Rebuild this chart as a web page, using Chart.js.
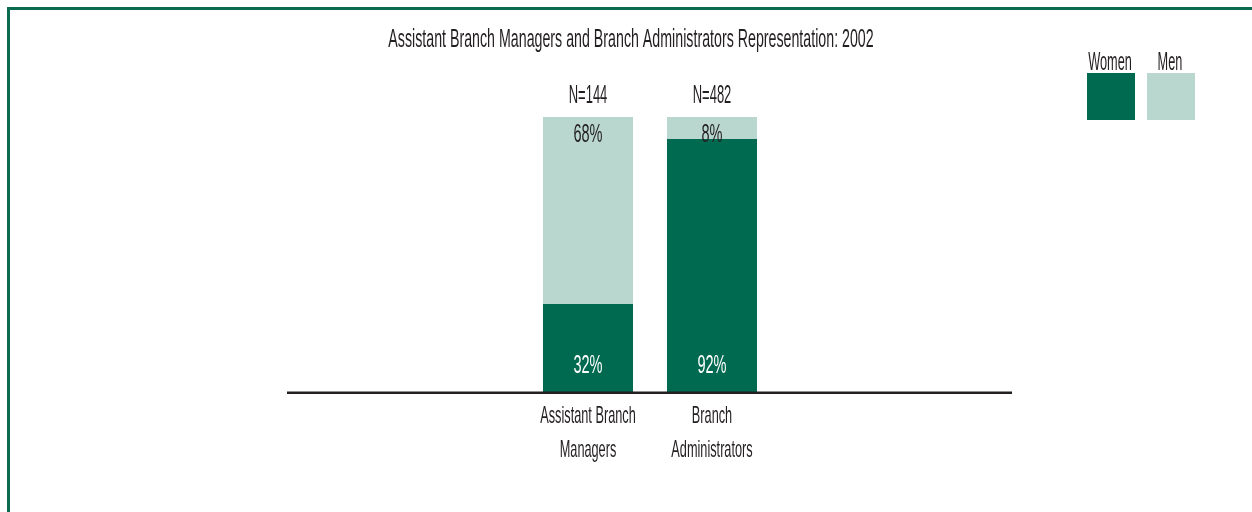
<!DOCTYPE html>
<html>
<head>
<meta charset="utf-8">
<script src="https://cdn.jsdelivr.net/npm/chart.js@4/dist/chart.umd.min.js"></script>
<style>
  html, body { margin: 0; padding: 0; background: #fff; }
  #wrap { position: relative; width: 1252px; height: 512px; }
  #frame { position: absolute; left: 7px; top: 7px; right: 0; bottom: 0;
           border-left: 3px solid #0b6b50; border-top: 3px solid #0b6b50; pointer-events: none; }
  canvas { position: absolute; left: 0; top: 0; }
</style>
</head>
<body>
<div id="wrap">
  <canvas id="ctx" width="1252" height="512"></canvas>
  <div id="frame"></div>
</div>
<script>
var title = 'Assistant Branch Managers and Branch Administrators Representation: 2002';
var categories = [['Assistant Branch', 'Managers'], ['Branch', 'Administrators']];
var women = [32, 92];
var men = [68, 8];
var sampleSizes = [144, 482];

var FONT = '"Liberation Sans", Arial, sans-serif';
var TEXT = '#231f20';
var GREEN = '#006a50';
var LIGHT = '#b9d6cf';
var SQUEEZE = 0.52; // the original uses a tall condensed face

// draw text squeezed horizontally to mimic the condensed font
function narrowText(ctx, str, x, y, size, factor) {
    ctx.font = size + 'px ' + FONT;
    var w = ctx.measureText(str).width;
    ctx.fillText(str, x, y, w * (factor || SQUEEZE));
}

var extras = {
    id: 'extras',
    afterDatasetsDraw: function (chart) {
        var ctx = chart.ctx;
        var area = chart.chartArea;
        var y = chart.scales.y;
        ctx.save();
        // extended baseline
        var y0 = y.getPixelForValue(0) + 0.75;
        ctx.strokeStyle = TEXT;
        ctx.lineWidth = 2.5;
        ctx.beginPath();
        ctx.moveTo(area.left - 239, y0);
        ctx.lineTo(area.right + 238, y0);
        ctx.stroke();

        ctx.textAlign = 'center';
        ctx.textBaseline = 'alphabetic';
        ctx.fillStyle = TEXT;

        // title
        narrowText(ctx, title, (10 + chart.width) / 2, 47, 26, 0.547);

        var wMeta = chart.getDatasetMeta(0);
        var mMeta = chart.getDatasetMeta(1);
        var top = y.getPixelForValue(100);
        wMeta.data.forEach(function (bar, i) {
            ctx.fillStyle = '#ffffff';
            narrowText(ctx, women[i] + '%', bar.x, bar.base - 19, 26, 0.56);
        });
        mMeta.data.forEach(function (bar, i) {
            ctx.fillStyle = TEXT;
            narrowText(ctx, men[i] + '%', bar.x, top + 25, 26, 0.56);
            narrowText(ctx, 'N=' + sampleSizes[i], bar.x, top - 14, 26, 0.5);
            // category labels below the axis
            categories[i].forEach(function (line, k) {
                narrowText(ctx, line, bar.x, y.getPixelForValue(0) + 31 + k * 34, 24, 0.53);
            });
        });

        // legend: text above boxes
        var left = chart.width - 165;
        chart.data.datasets.forEach(function (ds, i) {
            var bx = left + i * 60;
            ctx.fillStyle = ds.backgroundColor;
            ctx.fillRect(bx, 73, 48, 47);
            ctx.fillStyle = TEXT;
            narrowText(ctx, ds.label, bx + 23, 70, 26, 0.49);
        });
        ctx.restore();
    }
};

var ctx = document.getElementById('ctx').getContext('2d');

var myChart = new Chart(ctx, {
    type: 'bar',
    data: {
        labels: categories,
        datasets: [{
            label: 'Women',
            data: women,
            backgroundColor: GREEN,
            borderWidth: 0
        }, {
            label: 'Men',
            data: men,
            backgroundColor: LIGHT,
            borderWidth: 0
        }]
    },
    options: {
        responsive: false,
        animation: false,
        layout: { padding: { left: 526, right: 478, top: 117, bottom: 120 } },
        datasets: { bar: { categoryPercentage: 1, barPercentage: 0.726 } },
        plugins: {
            legend: { display: false },
            tooltip: { enabled: false },
            title: { display: false }
        },
        scales: {
            x: { stacked: true, display: false },
            y: { stacked: true, display: false, min: 0, max: 100 }
        }
    },
    plugins: [extras]
});
</script>
</body>
</html>
